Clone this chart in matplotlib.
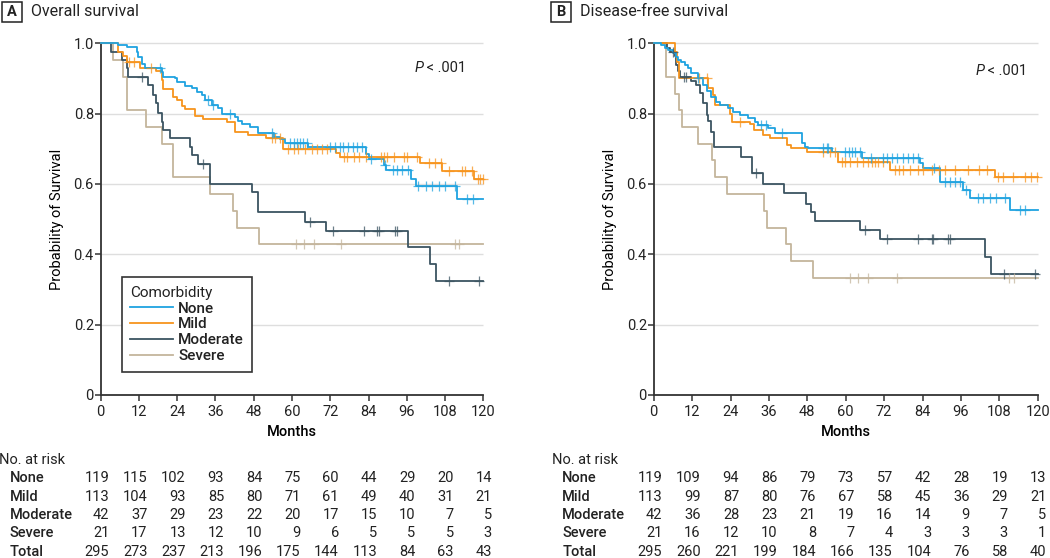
import numpy as np
import matplotlib.pyplot as plt
from matplotlib.lines import Line2D
from matplotlib.patches import Rectangle
from matplotlib.transforms import blended_transform_factory

plt.rcParams["font.family"] = ["Roboto", "DejaVu Sans"]
plt.rcParams["text.color"] = "#222222"

groups = ["None", "Mild", "Moderate", "Severe"]
group_colors = {"None": "#1fa3e0", "Mild": "#f7941d", "Moderate": "#3b5461", "Severe": "#c4b59c"}
risk_months = [0, 12, 24, 36, 48, 60, 72, 84, 96, 108, 120]
end_month = 120

# Panel A - overall survival, step curves (month, survival)
os_none_t = [0, 5.5, 8.1, 11.3, 11.8, 12.8, 13.9, 19.1, 19.6, 23.3, 23.8, 26.4, 28.5, 30.1, 31.7, 32.7,
             34.8, 36.9, 37.9, 42.1, 43.2, 44.2, 46.8, 49.4, 54.5, 56.2, 57.8, 65.0, 83.3, 84.3, 89.0,
             89.5, 97.4, 99.0, 111.8]
os_none_s = [1, .995, .99, .976, .962, .94, .929, .919, .905, .90, .889, .88, .872, .861, .853, .839,
             .825, .815, .80, .79, .779, .77, .761, .746, .735, .727, .716, .705, .685, .671, .655,
             .64, .615, .594, .556]
os_none_cens = [18.6, 33.7, 35.3, 40.5, 53.6, 59.4, 60.5, 61.5, 62.5, 63.5, 64.6, 72.0, 73.5, 75.0, 76.0,
                77.5, 79.0, 80.5, 82.0, 84.8, 89.2, 91.6, 93.0, 94.5, 96.3, 99.5, 102.1, 104.0, 106.0,
                108.0, 111.0, 114.8, 116.9]

os_mild_t = [0, 5.5, 7.1, 8.1, 12.3, 17.5, 19.1, 19.6, 22.8, 23.8, 25.4, 26.4, 29.6, 32.2, 39.5, 42.1,
             46.3, 52.0, 57.3, 73.9, 75.0, 100.0, 107.0, 117.0]
os_mild_s = [1, .974, .965, .946, .931, .92, .895, .87, .847, .838, .822, .813, .792, .786, .777, .748,
             .739, .731, .699, .687, .678, .66, .637, .615]
os_mild_cens = [8.8, 10.3, 15.9, 53.7, 54.7, 56.3, 58.9, 60.5, 62.0, 64.2, 66.3, 67.8, 69.4, 71.0, 76.2,
                77.3, 79.4, 81.0, 83.1, 87.8, 88.8, 89.9, 92.0, 95.1, 96.2, 99.3, 103.0, 105.0, 106.6,
                109.2, 113.4, 114.4, 116.5, 118.2, 119.1, 120.0]

os_mod_t = [0, 3.2, 6.8, 8.1, 8.7, 14.9, 16.5, 17.5, 18.1, 19.1, 19.6, 21.7, 28.0, 28.5, 30.6, 34.3,
            47.5, 49.4, 64.0, 70.8, 96.4, 103.2, 105.3]
os_mod_s = [1, .976, .952, .929, .905, .881, .852, .829, .803, .777, .753, .730, .706, .682, .658, .600,
            .576, .521, .493, .467, .420, .373, .325]
os_mod_cens = [12.8, 32.2, 65.6, 72.9, 82.6, 86.8, 87.2, 92.3, 92.8, 109.3, 118.6]

os_sev_t = [0, 3.8, 7.1, 8.4, 14.1, 19.1, 22.8, 34.3, 41.6, 42.9, 49.7]
os_sev_s = [1, .952, .905, .810, .762, .714, .619, .571, .524, .476, .429]
os_sev_cens = [61.3, 63.7, 67.0, 75.5, 111.1, 112.4]

# Panel B - disease-free survival
dfs_none_t = [0, 2.4, 3.4, 4.5, 6.0, 7.1, 7.6, 8.6, 9.7, 10.7, 11.8, 13.9, 15.4, 16.5, 18.0, 19.6, 20.6,
              23.2, 24.8, 26.9, 29.5, 31.6, 32.6, 35.7, 37.8, 46.2, 47.3, 48.3, 55.6, 65.0, 83.2, 84.3,
              89.5, 96.8, 98.8, 111.3]
dfs_none_s = [1, .995, .988, .981, .972, .962, .953, .946, .938, .929, .915, .9, .881, .865, .848, .834,
              .825, .815, .806, .796, .787, .775, .768, .76, .746, .716, .706, .701, .691, .673, .66,
              .645, .607, .583, .559, .526]
dfs_none_cens = [13.9, 33.6, 35.2, 40.0, 53.0, 54.0, 54.6, 59.8, 61.0, 62.0, 63.0, 64.5, 68.0, 71.8, 73.0,
                 74.5, 76.0, 78.0, 79.5, 81.0, 82.7, 87.5, 91.0, 92.5, 94.0, 95.8, 97.5, 101.4, 103.0,
                 105.0, 107.0, 109.8, 114.4, 116.0]

dfs_mild_t = [0, 6.6, 7.3, 7.8, 17.1, 18.4, 19.1, 23.7, 24.4, 30.1, 31.4, 34.3, 36.4, 41.6, 42.9, 47.8,
              57.7, 73.8, 106.7]
dfs_mild_s = [1, .975, .946, .900, .872, .853, .824, .80, .777, .77, .753, .739, .73, .711, .701, .692,
              .663, .64, .619]
dfs_mild_cens = [14.0, 16.6, 27.0, 53.0, 55.0, 56.6, 58.7, 59.8, 61.3, 63.4, 65.5, 67.1, 68.1, 69.2, 70.2,
                 71.8, 75.4, 76.5, 78.0, 80.0, 82.7, 84.0, 86.9, 89.0, 91.0, 94.2, 98.3, 101.5, 104.1,
                 107.7, 109.0, 112.4, 116.0, 118.0, 119.7]

dfs_mod_t = [0, 4.0, 5.0, 6.6, 7.1, 7.6, 8.1, 11.8, 13.3, 14.4, 15.4, 16.5, 17.0, 17.8, 18.9, 27.3, 30.7,
             34.3, 40.6, 47.5, 49.0, 50.5, 64.5, 70.7, 103.6, 105.4]
dfs_mod_s = [1, .988, .976, .964, .938, .92, .905, .893, .881, .858, .829, .796, .779, .749, .706, .677,
             .630, .600, .573, .543, .52, .495, .469, .443, .391, .343]
dfs_mod_cens = [6.0, 9.5, 10.2, 31.9, 66.1, 73.0, 82.6, 87.0, 87.3, 92.0, 92.7, 109.5, 119.0]

dfs_sev_t = [0, 3.8, 6.7, 8.0, 8.8, 13.9, 18.1, 19.1, 22.8, 34.5, 35.3, 41.4, 43.0, 49.7]
dfs_sev_s = [1, .905, .857, .810, .762, .714, .667, .619, .571, .524, .476, .429, .381, .333]
dfs_sev_cens = [61.3, 63.9, 67.0, 75.9, 110.9, 112.5]

# Numbers at risk
os_risk = {
    "None": [119, 115, 102, 93, 84, 75, 60, 44, 29, 20, 14],
    "Mild": [113, 104, 93, 85, 80, 71, 61, 49, 40, 31, 21],
    "Moderate": [42, 37, 29, 23, 22, 20, 17, 15, 10, 7, 5],
    "Severe": [21, 17, 13, 12, 10, 9, 6, 5, 5, 5, 3],
    "Total": [295, 273, 237, 213, 196, 175, 144, 113, 84, 63, 43],
}
dfs_risk = {
    "None": [119, 109, 94, 86, 79, 73, 57, 42, 28, 19, 13],
    "Mild": [113, 99, 87, 80, 76, 67, 58, 45, 36, 29, 21],
    "Moderate": [42, 36, 28, 23, 21, 19, 16, 14, 9, 7, 5],
    "Severe": [21, 16, 12, 10, 8, 7, 4, 3, 3, 3, 1],
    "Total": [295, 260, 221, 199, 184, 166, 135, 104, 76, 58, 40],
}

os_curves = {
    "None": (os_none_t, os_none_s, os_none_cens),
    "Mild": (os_mild_t, os_mild_s, os_mild_cens),
    "Moderate": (os_mod_t, os_mod_s, os_mod_cens),
    "Severe": (os_sev_t, os_sev_s, os_sev_cens),
}
dfs_curves = {
    "None": (dfs_none_t, dfs_none_s, dfs_none_cens),
    "Mild": (dfs_mild_t, dfs_mild_s, dfs_mild_cens),
    "Moderate": (dfs_mod_t, dfs_mod_s, dfs_mod_cens),
    "Severe": (dfs_sev_t, dfs_sev_s, dfs_sev_cens),
}

axis_color = "#333333"
grid_color = "#dedede"


def step_value(t, s, x):
    idx = np.searchsorted(np.asarray(t), np.asarray(x), side="right") - 1
    return np.asarray(s)[idx]


def draw_panel(ax, curves, risk, p_pos):
    yticks = [0, 0.2, 0.4, 0.6, 0.8, 1.0]
    ax.hlines(yticks[1:], 0, end_month, color=grid_color, lw=1.0, zorder=0, clip_on=False)
    # draw back to front so None ends on top
    for name in ["Severe", "Moderate", "Mild", "None"]:
        t, s, cens = curves[name]
        col = group_colors[name]
        ax.step(list(t) + [end_month], list(s) + [s[-1]], where="post",
                color=col, lw=1.3, clip_on=False, zorder=3)
        ax.plot(cens, step_value(t, s, cens), ls="none", marker="+", ms=6.5, mew=0.9,
                color=col, alpha=0.75, clip_on=False, zorder=4)

    ax.set_xlim(0, 120)
    ax.set_ylim(0, 1.0)
    ax.set_xticks(risk_months)
    ax.set_yticks(yticks)
    ax.set_yticklabels(["0", "0.2", "0.4", "0.6", "0.8", "1.0"])
    for side in ["top", "right"]:
        ax.spines[side].set_visible(False)
    for side in ["left", "bottom"]:
        ax.spines[side].set_color(axis_color)
        ax.spines[side].set_linewidth(1.3)
    ax.tick_params(direction="out", length=4, width=1.1, color=axis_color, labelsize=10.5,
                   labelcolor="#222222")
    ax.tick_params(axis="y", pad=1)
    ax.tick_params(axis="x", pad=3)
    ax.set_xlabel("Months", fontsize=10.5, fontweight="medium")
    ax.set_ylabel("Probability of Survival", fontsize=10.5)
    ax.xaxis.set_label_coords(0.5, -0.085)
    ax.yaxis.set_label_coords(-0.095, 0.5)

    tp = ax.text(p_pos[0], p_pos[1], "P", fontsize=10.5, style="italic", va="center", ha="left")
    ax.annotate(" < .001", xy=(1, 0.5), xycoords=tp, va="center", ha="left", fontsize=10.5)

    # number at risk table below the axes
    tr = blended_transform_factory(ax.transData, fig.transFigure)
    ax.text(-31.8, 1 - 460 / 558, "No. at risk", transform=tr, fontsize=10.5, va="center",
            ha="left", clip_on=False)
    rows = groups + ["Total"]
    for i, name in enumerate(rows):
        y = 1 - (478.3 + 18.3 * i) / 558
        ax.text(-28.6, y, name, transform=tr, fontsize=10.5, fontweight="medium", va="center",
                ha="left", clip_on=False)
        for m, n in zip(risk_months, risk[name]):
            ax.text(m + 2.7, y, str(n), transform=tr, fontsize=10.5, va="center", ha="right",
                    clip_on=False)


fig = plt.figure(figsize=(10.5, 5.58), dpi=100)
ax_a = fig.add_axes([100.7 / 1050, 1 - 395 / 558, 382.6 / 1050, 351.7 / 558])
ax_b = fig.add_axes([653.7 / 1050, 1 - 395 / 558, 384.0 / 1050, 351.7 / 558])

draw_panel(ax_a, os_curves, os_risk, (98.3, 0.929))
draw_panel(ax_b, dfs_curves, dfs_risk, (100.5, 0.921))

handles = [Line2D([0], [0], color=group_colors[g], lw=1.3) for g in groups]
leg = ax_a.legend(handles, groups, loc="lower left", bbox_to_anchor=(0.035, 0.045),
                  title="Comorbidity", prop={"size": 11, "weight": "medium"},
                  title_fontproperties={"size": 11}, alignment="left",
                  handlelength=2.8, handletextpad=0.35, labelspacing=0.12,
                  borderpad=0.55, fancybox=False, framealpha=1)
leg.get_frame().set_edgecolor(axis_color)
leg.get_frame().set_linewidth(1.2)

# panel letters and titles
for x0, letter, title in [(1.7, "A", "Overall survival"), (550.7, "B", "Disease-free survival")]:
    fig.patches.append(Rectangle((x0 / 1050, 1 - 21.7 / 558), 20 / 1050, 20 / 558,
                                 transform=fig.transFigure, fill=False, ec="#222222", lw=1.1))
    fig.text((x0 + 10) / 1050, 1 - 11.7 / 558, letter, fontsize=10.5, fontweight="bold",
             ha="center", va="center")
    fig.text((x0 + 29) / 1050, 1 - 12 / 558, title, fontsize=11.5, ha="left", va="center")

fig.savefig("out.png", dpi=100)
